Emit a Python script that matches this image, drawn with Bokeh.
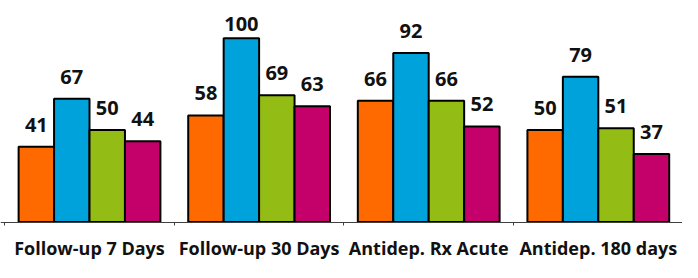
import numpy as np
from bokeh.plotting import figure
from bokeh.models import ColumnDataSource, Range1d, FixedTicker
from bokeh.core.properties import value
from bokeh.embed import file_html
from bokeh.resources import INLINE

# ---- data ----
categories = ["Follow-up 7 Days", "Follow-up 30 Days", "Antidep. Rx Acute", "Antidep. 180 days"]
series_orange = [41, 58, 66, 50]
series_blue = [67, 100, 92, 79]
series_green = [50, 69, 66, 51]
series_magenta = [44, 63, 52, 37]
series_list = [series_orange, series_blue, series_green, series_magenta]
colors = ["#FF6A00", "#00A2DB", "#93BD15", "#C4006A"]

# ---- layout constants ----
W, H = 682, 262
AXIS_PX = 221.5                 # axis line position from top (px)
PPU = 1.838                     # pixels per unit
Y_MAX = AXIS_PX / PPU
Y_MIN = -(H - AXIS_PX) / PPU
BAR_W = 0.209
LABEL_GAP = 22
TOP_BASELINE = 23               # highest allowed label anchor (px from top)
FONT = "Open Sans"

p = figure(width=W, height=H, output_backend="svg", toolbar_location=None,
           x_range=Range1d(-0.5248, 3.4964), y_range=Range1d(Y_MIN, Y_MAX),
           y_axis_location=None, min_border_left=0, min_border_right=0,
           min_border_top=0, min_border_bottom=0)
p.outline_line_color = None
p.xgrid.visible = False
p.ygrid.visible = False
p.background_fill_color = "white"
p.border_fill_color = "white"

max_px = AXIS_PX - TOP_BASELINE

idx = np.arange(len(categories))
for j, (vals, col) in enumerate(zip(series_list, colors)):
    xs = idx + (j - 1.5) * BAR_W
    vals_arr = np.array(vals, dtype=float)
    src = ColumnDataSource(dict(
        x=xs, top=vals_arr, label=[str(v) for v in vals],
        yoff=[-min(LABEL_GAP, max_px - v * PPU) for v in vals_arr],
    ))
    p.vbar(x="x", top="top", bottom=0, width=BAR_W, source=src,
           fill_color=col, line_color="black", line_width=2)
    p.text(x="x", y="top", text="label", source=src, y_offset="yoff",
           text_align="center", text_baseline="alphabetic",
           text_font=value(FONT), text_font_style="bold",
           text_font_size="20px", text_color="#111111")

ax = p.xaxis[0]
ax.fixed_location = 0
ax.ticker = FixedTicker(ticks=list(idx), minor_ticks=[-0.5, 0.5, 1.5, 2.5, 3.5])
ax.major_label_overrides = {int(i): c for i, c in zip(idx, categories)}
ax.axis_line_color = "#404040"
ax.axis_line_width = 1.2
ax.major_tick_out = 0
ax.major_tick_in = 0
ax.minor_tick_out = 3
ax.minor_tick_in = 0
ax.minor_tick_line_color = "#404040"
ax.major_label_standoff = 11
ax.major_label_text_font = FONT
ax.major_label_text_font_style = "bold"
ax.major_label_text_font_size = "18px"
ax.major_label_text_color = "#111111"

open("out.html", "w").write(file_html(p, INLINE))
